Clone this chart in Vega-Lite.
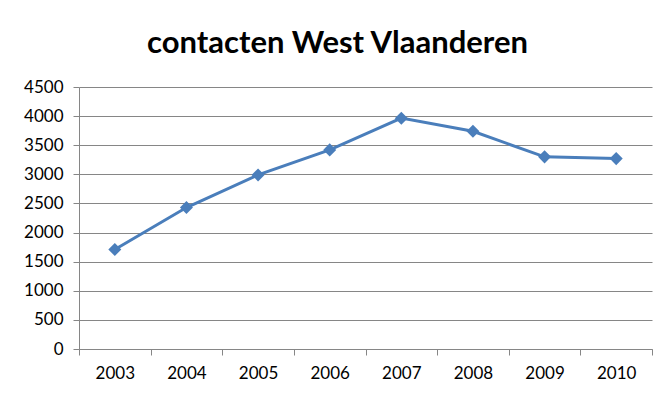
{
  "$schema": "https://vega.github.io/schema/vega-lite/v6.json",
  "width": 573,
  "height": 262,
  "autosize": "none",
  "padding": {"left": 79, "top": 87, "right": 14, "bottom": 58},
  "background": "white",
  "title": {
    "text": "contacten West Vlaanderen",
    "font": "Lato",
    "fontSize": 31,
    "fontWeight": "bold",
    "color": "#000000",
    "anchor": "middle",
    "dx": -28,
    "baseline": "alphabetic",
    "offset": -6
  },
  "data": {
    "values": [
      {"jaar": "2003", "contacten": 1710},
      {"jaar": "2004", "contacten": 2430},
      {"jaar": "2005", "contacten": 2990},
      {"jaar": "2006", "contacten": 3420},
      {"jaar": "2007", "contacten": 3965},
      {"jaar": "2008", "contacten": 3740},
      {"jaar": "2009", "contacten": 3300},
      {"jaar": "2010", "contacten": 3270}
    ]
  },
  "encoding": {
    "x": {
      "field": "jaar",
      "type": "ordinal",
      "scale": {"type": "band", "paddingInner": 0, "paddingOuter": 0},
      "axis": {
        "title": null,
        "labelAngle": 0,
        "bandPosition": 0,
        "ticks": true,
        "tickBand": "extent",
        "tickSize": 6,
        "labelPadding": 10,
        "grid": false
      }
    },
    "y": {
      "field": "contacten",
      "type": "quantitative",
      "scale": {"domain": [0, 4500], "nice": false},
      "axis": {
        "title": null,
        "format": "d",
        "values": [0, 500, 1000, 1500, 2000, 2500, 3000, 3500, 4000, 4500],
        "tickSize": 6,
        "labelPadding": 10,
        "grid": true
      }
    }
  },
  "layer": [
    {
      "mark": {"type": "line", "color": "#4a7ebb", "strokeWidth": 3},
      "encoding": {}
    },
    {
      "mark": {"type": "point", "shape": "diamond", "filled": true, "color": "#4a7ebb", "size": 170, "opacity": 1},
      "encoding": {}
    }
  ],
  "config": {
    "view": {"stroke": null},
    "axis": {
      "labelFont": "Lato",
      "labelFontSize": 17,
      "labelColor": "#000000",
      "domainColor": "#868686",
      "tickColor": "#868686",
      "gridColor": "#868686",
      "domainWidth": 1,
      "tickWidth": 1,
      "gridWidth": 1
    }
  }
}
